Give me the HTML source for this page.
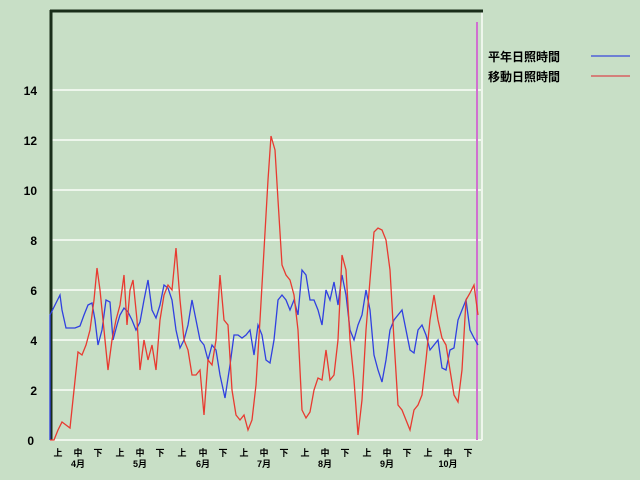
<!DOCTYPE html>
<html><head><meta charset="utf-8"><style>
body{margin:0;background:#c8dfc6;}
svg{display:block}
text{font-family:"Liberation Sans","Noto Sans CJK JP",sans-serif;font-weight:bold;fill:#000}
</style></head><body>
<svg width="640" height="480" viewBox="0 0 640 480">
<rect width="640" height="480" fill="#c8dfc6"/>
<g stroke="#eef6ec" stroke-width="2">
<line x1="50" y1="90" x2="482" y2="90"/><line x1="50" y1="140" x2="482" y2="140"/>
<line x1="50" y1="190" x2="482" y2="190"/><line x1="50" y1="240" x2="482" y2="240"/>
<line x1="50" y1="290" x2="482" y2="290"/><line x1="50" y1="340" x2="482" y2="340"/>
<line x1="50" y1="390" x2="482" y2="390"/><line x1="50" y1="440" x2="482" y2="440"/>
<line x1="482" y1="11" x2="482" y2="440"/>
</g>
<line x1="50" y1="11" x2="483" y2="11" stroke="#1a2e1a" stroke-width="3"/>
<line x1="51" y1="10" x2="51" y2="440" stroke="#1a2e1a" stroke-width="3"/>
<line x1="477" y1="22" x2="477" y2="440" stroke="#d070d0" stroke-width="2"/>
<g font-size="12" text-anchor="end">
<text x="37" y="95">14</text><text x="37" y="145">12</text><text x="37" y="195">10</text>
<text x="37" y="245">8</text><text x="37" y="295">6</text><text x="37" y="345">4</text>
<text x="37" y="395">2</text><text x="34" y="445">0</text>
</g>
<g font-size="9" text-anchor="middle">
<text x="58" y="456">上</text><text x="78" y="456">中</text><text x="98" y="456">下</text>
<text x="120" y="456">上</text><text x="140" y="456">中</text><text x="160" y="456">下</text>
<text x="182" y="456">上</text><text x="203" y="456">中</text><text x="223" y="456">下</text>
<text x="244" y="456">上</text><text x="264" y="456">中</text><text x="284" y="456">下</text>
<text x="305" y="456">上</text><text x="325" y="456">中</text><text x="345" y="456">下</text>
<text x="367" y="456">上</text><text x="387" y="456">中</text><text x="407" y="456">下</text>
<text x="428" y="456">上</text><text x="448" y="456">中</text><text x="468" y="456">下</text>
<text x="78" y="467">4月</text><text x="140" y="467">5月</text><text x="203" y="467">6月</text>
<text x="264" y="467">7月</text><text x="325" y="467">8月</text><text x="387" y="467">9月</text><text x="448" y="467">10月</text>
</g>
<polyline fill="none" stroke="#3040e0" stroke-width="1.3" points="50,440 50,315 55,305 60,295 62,310 66,328 75,328 80,326 84,315 88,305 92,303 95,320 98,345 102,330 106,300 110,302 113,340 117,325 120,315 124,308 128,312 132,320 136,330 140,322 144,300 148,280 152,310 156,318 160,305 164,285 168,288 172,300 176,330 180,348 184,340 188,325 192,300 196,320 200,340 204,345 208,360 212,345 216,350 220,375 225,398 230,365 234,335 238,335 242,338 246,335 250,330 254,355 258,325 262,335 266,360 270,363 274,340 278,300 282,295 286,300 290,310 294,300 298,315 302,270 306,275 310,300 314,300 318,310 322,325 326,290 330,300 334,282 338,305 342,275 346,295 350,330 354,340 358,325 362,315 366,290 370,310 374,355 378,370 382,382 386,360 390,330 394,320 398,315 402,310 406,330 410,350 414,353 418,330 422,325 426,335 430,350 434,345 438,340 442,368 446,370 450,350 454,348 458,320 462,310 466,300 470,330 474,338 478,345"/>
<polyline fill="none" stroke="#e83a30" stroke-width="1.3" points="50,440 54,440 58,430 62,422 66,425 70,428 74,390 78,352 82,355 86,345 90,330 94,300 97,268 100,290 104,330 108,370 112,340 116,320 120,305 124,275 127,325 130,290 133,280 137,320 140,370 144,340 148,360 152,345 156,370 160,320 164,295 168,285 172,290 176,248 180,300 184,340 188,350 192,375 196,375 200,370 204,415 208,360 212,365 216,340 220,275 224,320 228,325 232,390 236,415 240,420 244,415 248,430 252,420 256,385 260,320 264,250 268,180 271,136 275,150 278,200 282,265 286,275 290,280 294,295 298,330 302,410 306,418 310,412 314,390 318,378 322,380 326,350 330,380 334,375 338,340 342,255 346,270 350,340 354,380 358,435 362,400 366,330 370,280 374,232 378,228 382,230 386,240 390,270 394,340 398,405 402,410 406,420 410,430 414,410 418,405 422,395 426,360 430,320 434,295 438,320 442,338 446,345 450,370 454,395 458,402 462,370 466,300 470,293 474,285 478,315"/>
<g font-size="12">
<text x="488" y="61">平年日照時間</text>
<text x="488" y="81">移動日照時間</text>
</g>
<line x1="591" y1="56" x2="630" y2="56" stroke="#5060d8" stroke-width="1.5"/>
<line x1="591" y1="76" x2="630" y2="76" stroke="#d86060" stroke-width="1.5"/>
</svg>
</body></html>
